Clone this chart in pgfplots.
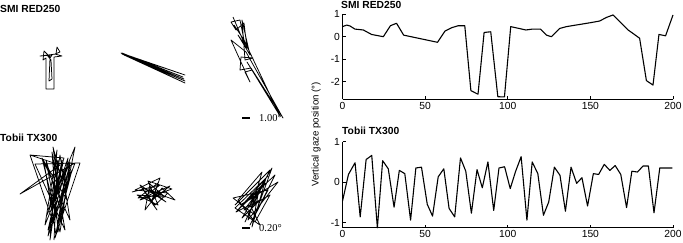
\documentclass[border=0pt]{standalone}
\usepackage{fontspec}
\setmainfont{Liberation Sans}
\newfontfamily\seriffont{Liberation Serif}
\usepackage{pgfplots}
\pgfplotsset{compat=1.18}
\pgfplotsset{
  rp/.style={scale only axis, width=330.5pt, axis lines*=left, tick align=inside,
    xmin=0, xmax=200, xtick={0,50,100,150,200}, major tick length=3pt,
    tick style={black, line width=0.8pt}, axis line style={line width=0.8pt},
    ticklabel style={font=\fontsize{10.3}{12}\selectfont},
    xticklabel style={yshift=1pt}, yticklabel style={xshift=1pt},
    /pgf/number format/assume math mode=true, clip=false},
  sp/.style={black, line width=0.75pt, line join=round, mark=none},
  tp/.style={black, line width=1.1pt, line join=round, mark=none}
}
\begin{document}
\begin{tikzpicture}
\useasboundingbox (0,0) rectangle (683pt,-242pt);
% ---------- left canvas (pixel coordinates) ----------
\begin{axis}[at={(0,0)}, anchor=north west, scale only axis, width=300pt, height=242pt,
  xmin=0, xmax=300, ymin=0, ymax=242, y dir=reverse, axis lines=none, ticks=none, clip=false]
% SMI panel 1
\addplot[sp] coordinates {(50,57) (44,51) (43,60) (46,58) (46,89) (54,89) (54,57) (62,56) (55,54) (60,52) (57,47) (56,54) (40,56) (52,55) (50,58) (49,81) (52,79) (51,60) (47,55)};
% SMI panel 2
\addplot[sp] coordinates {(121,53) (185,75) (123,54) (184,79) (122,54) (185,81) (124,55) (185,83) (121,53) (183,77) (122,53)};
% SMI panel 3
\addplot[sp] coordinates {(233,17) (245,45) (240,20) (231,22) (236,30) (244,23) (247,48) (238,35) (250,55) (242,20) (245,60) (253,58) (241,57) (240,70) (251,68) (283,118) (246,52) (231,40) (250,82) (245,72) (252,70) (247,62) (280,116) (244,40) (234,25)};
% Tobii panel 4
\addplot[sp] coordinates {(30,155) (60,165) (20,194) (75,163) (48,236) (62,160) (50,240) (57,150) (45,225) (70,162) (55,238) (80,163) (35,164) (65,230) (52,152) (58,232) (75,147) (47,215) (66,168) (50,228) (60,155) (70,220) (44,162) (56,235) (68,158) (52,205) (63,163) (48,230) (72,170) (58,225) (46,160) (62,215) (53,147) (67,200) (42,158) (60,232) (70,165) (53,222) (30,155) (64,158) (49,210) (58,160) (54,240)};
% Tobii panel 5
\addplot[sp] coordinates {(132,192) (160,185) (140,200) (172,189) (148,181) (158,205) (137,195) (165,197) (150,184) (145,210) (162,188) (175,200) (142,188) (155,205) (168,193) (135,190) (160,178) (152,200) (170,186) (147,196) (157,210) (140,185) (166,202) (150,190) (162,195) (138,198) (158,183) (153,199)};
% Tobii panel 6
\addplot[sp] coordinates {(235,205) (270,170) (245,222) (262,185) (238,210) (275,175) (250,225) (268,190) (233,198) (255,215) (272,168) (242,218) (260,200) (236,212) (266,178) (252,227) (258,195) (240,205) (278,182) (248,220) (262,172) (238,200) (255,222) (270,195) (244,210) (265,183) (250,205) (260,225) (235,208) (268,176)};
% scale bars
\addplot[black, line width=2.2pt, mark=none] coordinates {(242,118) (250,118)};
\addplot[black, line width=2.2pt, mark=none] coordinates {(242,228) (250,228)};
\node[anchor=west, inner sep=0pt, font=\seriffont\fontsize{10.5}{12}\selectfont] at (axis cs:259,118) {1.00°};
\node[anchor=west, inner sep=0pt, font=\seriffont\fontsize{10.5}{12}\selectfont] at (axis cs:259,228) {0.20°};
\node[anchor=west, inner sep=0pt, font=\bfseries\fontsize{10.3}{12}\selectfont] at (axis cs:0,9.3) {SMI RED250};
\node[anchor=west, inner sep=0pt, font=\bfseries\fontsize{10.3}{12}\selectfont] at (axis cs:0,138.3) {Tobii TX300};
\end{axis}
% ---------- right top ----------
\begin{axis}[rp, at={(342.5pt,-14.3pt)}, anchor=north west, height=85.1pt,
  ymin=-2.8, ymax=1, ytick={-2,-1,0,1}]
\addplot[tp] coordinates {(0,0.45) (2.6,0.52) (4.5,0.48) (7.5,0.34) (12.6,0.30) (17.6,0.10) (24.7,0.0) (29,0.49) (32.7,0.60) (37,0.07) (57.5,-0.25) (62,0.25) (66,0.40) (70,0.49) (74,0.49) (77.7,-2.41) (82,-2.57) (85.7,0.19) (89.7,0.22) (94,-2.68) (98,-2.69) (101.8,0.45) (111,0.30) (115,0.34) (119.8,0.34) (123.4,0.07) (126.4,0.0) (131.5,0.37) (135.5,0.45) (149.6,0.62) (155.6,0.70) (159.7,0.86) (163.7,0.97) (172.8,0.30) (175.7,0.15) (179.8,-0.07) (183.9,-1.96) (187.9,-2.16) (191.5,0.10) (195.5,0.04) (200,0.97)};
\end{axis}
% ---------- right bottom ----------
\begin{axis}[rp, at={(342.5pt,-141.7pt)}, anchor=north west, height=86.1pt,
  ymin=-1.13, ymax=1, ytick={-1,0,1}]
\addplot[tp] coordinates {(0,-0.47) (3.6,0.19) (7.6,0.48) (10.7,-0.86) (14.3,0.56) (17.7,0.66) (21.1,-1.13) (24.3,0.53) (27.7,0.33) (31.2,-0.62) (34.4,0.29) (37.7,0.21) (41.2,-0.94) (44.4,0.35) (47.8,0.37) (51.3,-0.55) (54.5,-0.84) (57.9,0.13) (61.3,0.33) (64.5,-0.65) (67.9,-0.86) (71.4,0.60) (74.6,0.27) (78,-0.77) (81.4,0.31) (84.6,-0.14) (88,0.50) (91.5,-0.70) (94.7,0.35) (98.1,0.38) (101.5,-0.16) (104.7,0.26) (108.1,0.63) (111.6,-0.94) (114.8,0.50) (118.2,0.21) (121.6,-0.82) (124.8,-0.49) (128.2,0.37) (131.6,0.17) (134.9,-0.72) (138.3,0.37) (141.7,-0.03) (144.9,0.11) (148.3,-0.59) (151.8,0.21) (155,0.19) (158.4,0.44) (161.8,0.29) (165,0.41) (168.4,0.19) (171.9,-0.63) (175.1,0.27) (178.5,0.25) (181.9,0.40) (185.1,0.40) (188.5,-0.76) (192,0.35) (199.6,0.35)};
\end{axis}
% titles and y label
\node[anchor=west, inner sep=0pt, font=\bfseries\fontsize{10.3}{12}\selectfont] at (341pt,-5pt) {SMI RED250};
\node[anchor=west, inner sep=0pt, font=\bfseries\fontsize{10.3}{12}\selectfont] at (342pt,-131.3pt) {Tobii TX300};
\node[rotate=90, inner sep=0pt, font=\fontsize{9.7}{11}\selectfont] at (316pt,-134.5pt) {Vertical gaze position (°)};
\end{tikzpicture}
\end{document}
